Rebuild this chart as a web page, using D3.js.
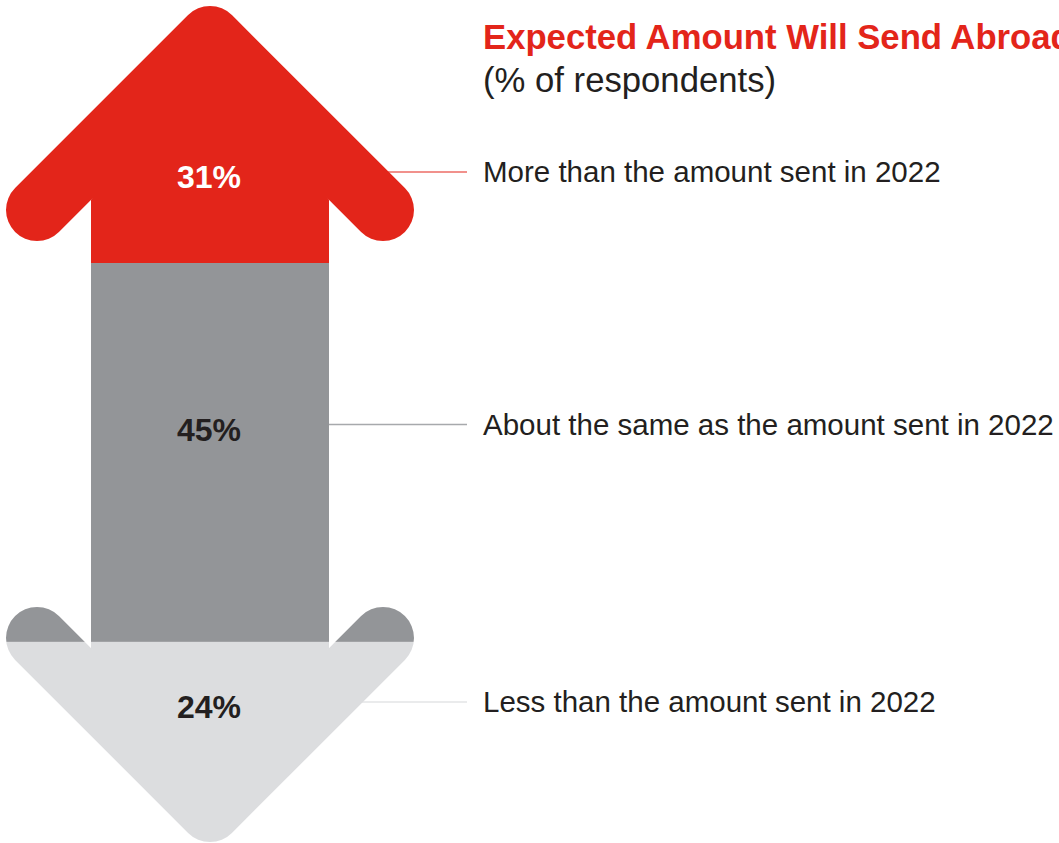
<!DOCTYPE html>
<html>
<head>
<meta charset="utf-8">
<script src="https://cdn.jsdelivr.net/npm/d3@7"></script>
<style>
  html, body { margin: 0; padding: 0; background: #ffffff; }
  svg { display: block; }
  text { font-family: "Liberation Sans", Arial, Helvetica, sans-serif; }
</style>
</head>
<body>
<svg id="chart" width="1059" height="843"></svg>
<script>
// Survey answers, top to bottom
const categories = [
  "More than the amount sent in 2022",
  "About the same as the amount sent in 2022",
  "Less than the amount sent in 2022"
];
const shares = [31, 45, 24];               // % of respondents
const bandColors = ["#E3251A", "#939598", "#DCDDDF"];
const valueColors = ["#FFFFFF", "#231F20", "#231F20"];
const leaderColors = ["#E3251A", "#A7A9AC", "#E3E4E6"];

const titleText = "Expected Amount Will Send Abroad";
const subtitleText = "(% of respondents)";

// Layout
const W = 1059, H = 843;
const cx = 210;              // arrow axis
const shaftL = 91, shaftR = 329;
const wing = 173;            // horizontal reach of each arrowhead wing
const r = 31;                // half thickness of the rounded wings
const topApex = 37, bottomApex = 811;
const leaderY = [172, 424.5, 702];
const textX = 483, leaderEnd = 467;

const svg = d3.select("#chart");

// cumulative share -> vertical position of band boundaries
const y = d3.scaleLinear().domain([0, 100]).range([2, 844]);
const ends = Array.from(d3.cumsum(shares));
const starts = [0, ...ends.slice(0, -1)];

// Double-headed arrow silhouette used as a mask
const defs = svg.append("defs");
const mask = defs.append("mask")
  .attr("id", "arrow-mask")
  .attr("maskUnits", "userSpaceOnUse")
  .attr("x", 0).attr("y", 0).attr("width", W).attr("height", H);

const line = d3.line();
const off = r * Math.SQRT2;
const topNotch = topApex + (cx - shaftL) + off;          // where inner wing edge meets the shaft
const botNotch = bottomApex - (cx - shaftL) - off;

const chevrons = [
  [[cx - wing, topApex + wing], [cx, topApex], [cx + wing, topApex + wing]],
  [[cx - wing, bottomApex - wing], [cx, bottomApex], [cx + wing, bottomApex - wing]]
];
mask.selectAll("path.chev").data(chevrons).join("path")
  .attr("class", "chev")
  .attr("d", line)
  .attr("fill", "none")
  .attr("stroke", "#fff")
  .attr("stroke-width", 2 * r)
  .attr("stroke-linecap", "round")
  .attr("stroke-linejoin", "round");

const fills = [
  [[cx, topApex], [shaftL, topNotch], [shaftL, botNotch], [cx, bottomApex], [shaftR, botNotch], [shaftR, topNotch]]
];
mask.selectAll("path.fill").data(fills).join("path")
  .attr("class", "fill")
  .attr("d", d => line(d) + "Z")
  .attr("fill", "#fff");

// Leader lines (drawn first so the arrow covers their inner ends)
svg.append("g").selectAll("line").data(categories).join("line")
  .attr("x1", shaftR)
  .attr("x2", leaderEnd)
  .attr("y1", (d, i) => leaderY[i])
  .attr("y2", (d, i) => leaderY[i])
  .attr("stroke", (d, i) => leaderColors[i])
  .attr("stroke-width", (d, i) => i === 0 ? 1.2 : 1.5);

// Coloured bands clipped to the arrow
svg.append("g").attr("mask", "url(#arrow-mask)")
  .selectAll("rect").data(shares).join("rect")
  .attr("x", 0)
  .attr("width", 430)
  .attr("y", (d, i) => y(starts[i]))
  .attr("height", (d, i) => y(ends[i]) - y(starts[i]))
  .attr("fill", (d, i) => bandColors[i]);

// Value labels
svg.append("g").selectAll("text").data(shares).join("text")
  .attr("x", cx - 1)
  .attr("y", (d, i) => leaderY[i] + 16)
  .attr("text-anchor", "middle")
  .attr("font-size", 32)
  .attr("font-weight", "bold")
  .attr("fill", (d, i) => valueColors[i])
  .text(d => d + "%");

// Category labels
svg.append("g").selectAll("text").data(categories).join("text")
  .attr("x", textX)
  .attr("y", (d, i) => leaderY[i] + 10)
  .attr("font-size", 29.5)
  .attr("fill", "#231F20")
  .text(d => d);

// Title
svg.append("text")
  .attr("x", textX).attr("y", 48.5)
  .attr("font-size", 34.7)
  .attr("font-weight", "bold")
  .attr("fill", "#E3251A")
  .text(titleText);

svg.append("text")
  .attr("x", textX).attr("y", 91.5)
  .attr("font-size", 34.7)
  .attr("fill", "#231F20")
  .text(subtitleText);
</script>
</body>
</html>
